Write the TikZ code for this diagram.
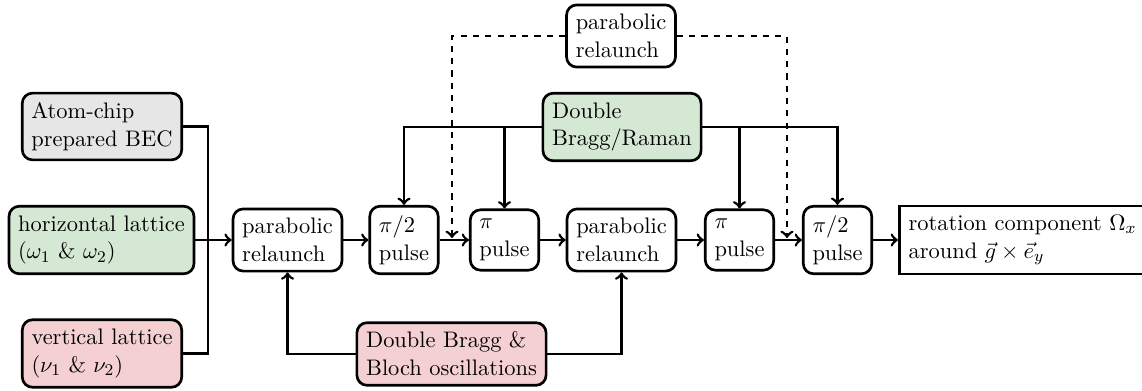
\documentclass[tikz,border=0pt]{standalone}
\definecolor{boxgray}{HTML}{E6E6E6}
\definecolor{boxgreen}{HTML}{D5E8D4}
\definecolor{boxred}{HTML}{F5D0D3}
\begin{document}
\begin{tikzpicture}[x=0.4878pt,y=-0.4878pt,
    font=\fontsize{10.95}{13.6}\selectfont,
    box/.style={draw,line width=1.3pt,rounded corners=5pt,align=left,inner sep=4.5pt},
    flow/.style={->,line width=1.3pt}]
  \useasboundingbox (0,0) rectangle (1142,390);
  \draw
    (102,126.5) node[box,fill=boxgray] (bec){Atom-chip\\prepared BEC}
    (101.5,240) node[box,fill=boxgreen] (hlat){horizontal lattice\\($\omega_1$ \& $\omega_2$)}
    (102,353.5) node[box,fill=boxred] (vlat){vertical lattice\\($\nu_1$ \& $\nu_2$)}
    (287.5,240) node[box] (rel1){parabolic\\relaunch}
    (404,240) node[box] (pih1){$\pi/2$\\pulse}
    (504.5,240) node[box] (pi1){$\pi$\\pulse}
    (621.5,240) node[box] (rel2){parabolic\\relaunch}
    (739.5,240) node[box] (pi2){$\pi$\\pulse}
    (837.5,240) node[box] (pih2){$\pi/2$\\pulse}
    (898,240) node[box,sharp corners,anchor=west] (rot){rotation component $\Omega_x$\\around $\vec{g}\times\vec{e}_y$}
    (621,36) node[box] (reltop){parabolic\\relaunch}
    (622,127) node[box,fill=boxgreen] (dbr){Double\\Bragg/Raman}
    (451.5,354) node[box,fill=boxred] (dbb){Double Bragg \&\\Bloch oscillations};
  \coordinate (jn) at (208,240);
  \coordinate (dl) at (452,238);
  \coordinate (dr) at (787,238);
  \begin{scope}[line width=1.3pt]
    \draw (bec.east) -| (jn);
    \draw (vlat.east) -| (jn);
    \draw[flow] (hlat.east) -- (rel1.west);
    \draw[flow] (rel1.east) -- (pih1.west);
    \draw[flow] (pih1.east) -- (pi1.west);
    \draw[flow] (pi1.east) -- (rel2.west);
    \draw[flow] (rel2.east) -- (pi2.west);
    \draw[flow] (pi2.east) -- (pih2.west);
    \draw[flow] (pih2.east) -- (rot.west);
    \draw[flow] (dbr.west) -| (pih1.north);
    \draw[flow] (dbr.west) -| (pi1.north);
    \draw[flow] (dbr.east) -| (pi2.north);
    \draw[flow] (dbr.east) -| (pih2.north);
    \draw[flow] (dbb.west) -| (rel1.south);
    \draw[flow] (dbb.east) -| (rel2.south);
    \draw[flow,dashed] (reltop.west) -| (dl);
    \draw[flow,dashed] (reltop.east) -| (dr);
  \end{scope}
\end{tikzpicture}
\end{document}
